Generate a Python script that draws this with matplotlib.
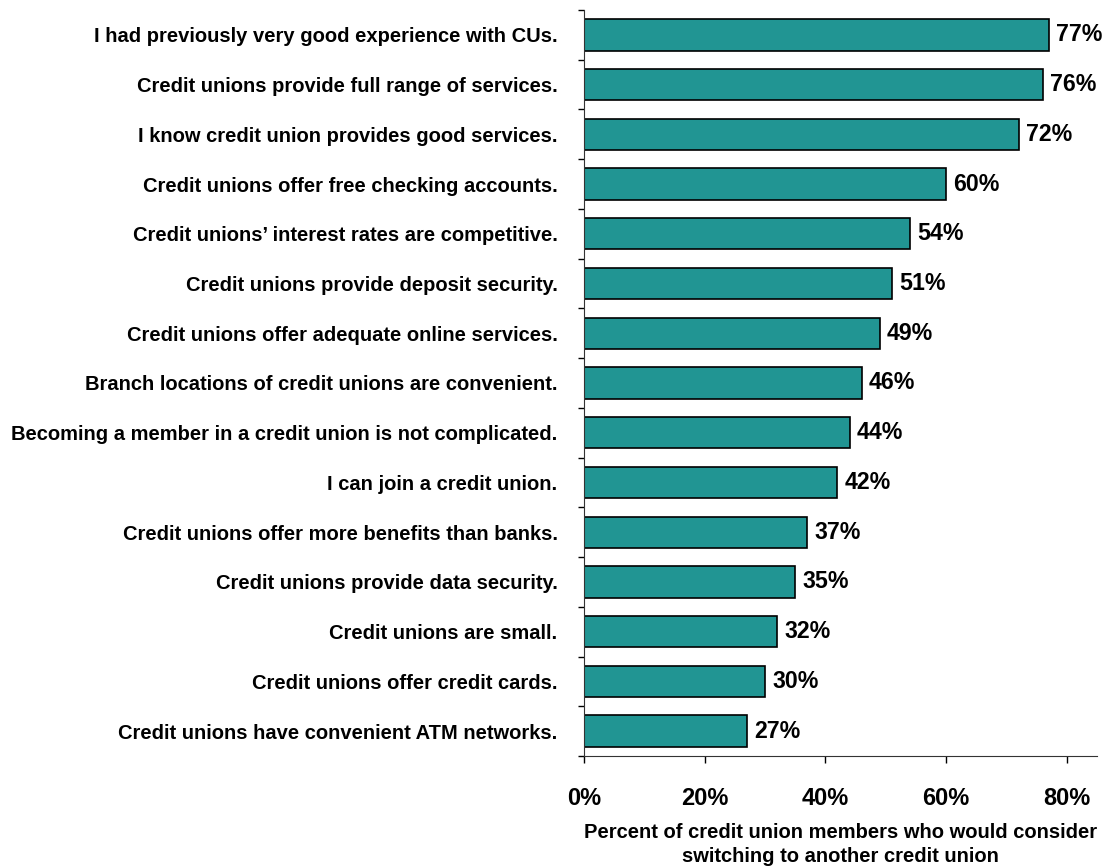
import numpy as np
import matplotlib.pyplot as plt
from matplotlib.ticker import FixedLocator

plt.rcParams['font.family'] = ['Liberation Sans', 'DejaVu Sans']
plt.rcParams['font.weight'] = 'bold'

reasons = [
    "I had previously very good experience with CUs.",
    "Credit unions provide full range of services.",
    "I know credit union provides good services.",
    "Credit unions offer free checking accounts.",
    "Credit unions\u2019 interest rates are competitive.",
    "Credit unions provide deposit security.",
    "Credit unions offer adequate online services.",
    "Branch locations of credit unions are convenient.",
    "Becoming a member in a credit union is not complicated.",
    "I can join a credit union.",
    "Credit unions offer more benefits than banks.",
    "Credit unions provide data security.",
    "Credit unions are small.",
    "Credit unions offer credit cards.",
    "Credit unions have convenient ATM networks.",
]
percent = [77, 76, 72, 60, 54, 51, 49, 46, 44, 42, 37, 35, 32, 30, 27]
xticks = [0, 20, 40, 60, 80]

fig = plt.figure(figsize=(11.16, 8.67), dpi=100)
ax = fig.add_axes([0.5233, 0.128, 0.4597, 0.8605])

y = np.arange(len(reasons))
ax.barh(y, percent, height=0.63, color='#219593', edgecolor='black', linewidth=1.2)

# value labels just right of each bar
for yi, v in zip(y, percent):
    ax.text(v + 1.15, yi, f"{v}%", va='center', ha='left', fontsize=16.7, fontweight='bold')

ax.set_xlim(0, 85)
ax.set_ylim(len(reasons) - 0.5, -0.5)

ax.set_xticks(xticks)
ax.set_xticklabels([f"{t}%" for t in xticks], fontsize=17, fontweight='bold')
ax.tick_params(axis='x', direction='out', length=5, width=1, pad=17)

# labels at bar centres, tick marks between categories
ax.set_yticks(y)
ax.set_yticklabels(reasons, fontsize=14.5, fontweight='bold')
ax.tick_params(axis='y', which='major', length=0, pad=19)
ax.yaxis.set_minor_locator(FixedLocator(np.arange(-0.5, len(reasons), 1.0)))
ax.tick_params(axis='y', which='minor', direction='out', length=4, width=1)

for side in ['top', 'right']:
    ax.spines[side].set_visible(False)
ax.spines['left'].set_color('#333333')
ax.spines['bottom'].set_color('#333333')

ax.set_xlabel("Percent of credit union members who would consider\nswitching to another credit union",
              fontsize=14.5, fontweight='bold', labelpad=10, linespacing=1.3)

fig.savefig('out.png', dpi=100)
